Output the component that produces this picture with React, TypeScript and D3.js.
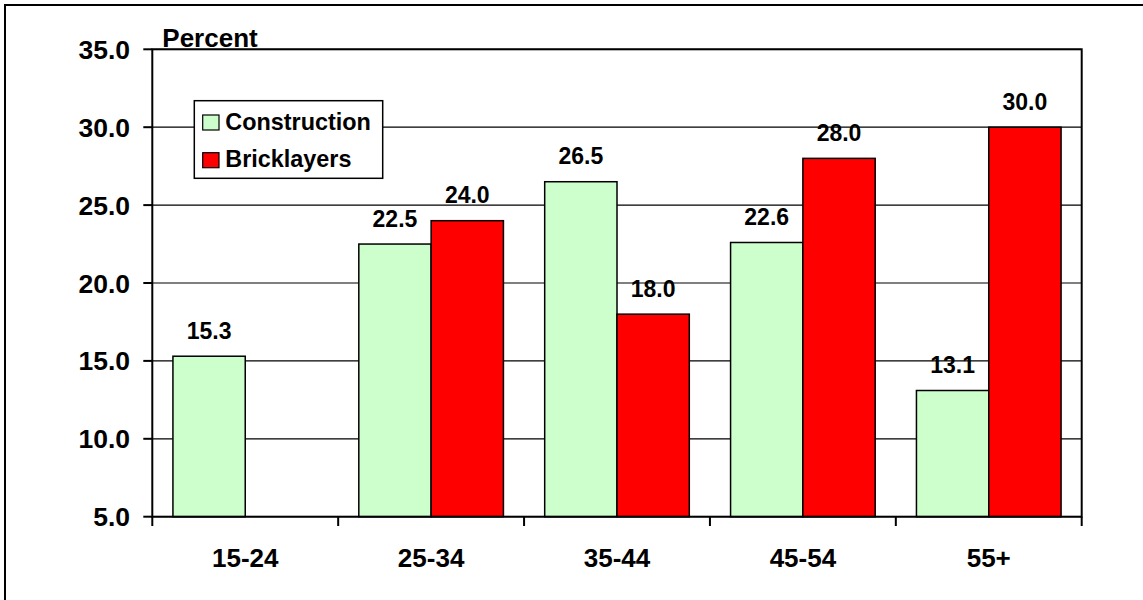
import React from "react";
import * as d3 from "d3";

// Age groups and the share of workers in each (percent)
const categories = ["15-24", "25-34", "35-44", "45-54", "55+"];
const construction = [15.3, 22.5, 26.5, 22.6, 13.1];
const bricklayers: (number | null)[] = [null, 24.0, 18.0, 28.0, 30.0];
const seriesNames = ["Construction", "Bricklayers"];
const seriesColors = ["#CCFFCC", "#FF0000"];
const yTicks = [5, 10, 15, 20, 25, 30, 35];

const W = 1143;
const H = 600;
const plot = { left: 152.3, right: 1081.7, top: 49.3, bottom: 516.7 };
const FONT = "'Liberation Sans', Arial, Helvetica, sans-serif";

export default function App() {
  const x0 = d3
    .scaleBand<string>()
    .domain(categories)
    .range([plot.left, plot.right])
    .padding(0);
  const band = x0.bandwidth();
  const barW = band * 0.389;
  const groupOffset = (band - 2 * barW) / 2;
  const x1 = d3
    .scaleBand<string>()
    .domain(seriesNames)
    .range([groupOffset, groupOffset + 2 * barW])
    .padding(0);

  const y = d3.scaleLinear().domain([5, 35]).range([plot.bottom, plot.top]);
  const fmt = d3.format(".1f");

  const series = [construction, bricklayers];

  const xTickPositions = [...categories.map((c) => x0(c) as number), plot.right];

  return (
    <svg
      width={W}
      height={H}
      style={{ position: "absolute", left: 0, top: 0, background: "#fff" }}
      fontFamily={FONT}
      fontWeight="bold"
    >
      {/* outer frame */}
      <rect x={5} y={5} width={W + 20} height={H + 20} fill="#fff" stroke="#000" strokeWidth={2} />

      {/* horizontal gridlines */}
      {yTicks.map((t) => (
        <line
          key={"g" + t}
          x1={plot.left}
          x2={plot.right}
          y1={y(t)}
          y2={y(t)}
          stroke="#000"
          strokeWidth={1.2}
        />
      ))}

      {/* bars */}
      {series.map((vals, si) =>
        vals.map((v, i) =>
          v == null ? null : (
            <rect
              key={`b${si}-${i}`}
              x={(x0(categories[i]) as number) + (x1(seriesNames[si]) as number)}
              y={y(v)}
              width={x1.bandwidth()}
              height={y(5) - y(v)}
              fill={seriesColors[si]}
              stroke="#000"
              strokeWidth={1.5}
            />
          )
        )
      )}

      {/* value labels */}
      {series.map((vals, si) =>
        vals.map((v, i) =>
          v == null ? null : (
            <text
              key={`l${si}-${i}`}
              x={(x0(categories[i]) as number) + (x1(seriesNames[si]) as number) + x1.bandwidth() / 2}
              y={y(v) - 17.5}
              textAnchor="middle"
              fontSize={23}
              fill="#000"
            >
              {fmt(v)}
            </text>
          )
        )
      )}

      {/* plot frame */}
      <rect
        x={plot.left}
        y={plot.top}
        width={plot.right - plot.left}
        height={plot.bottom - plot.top}
        fill="none"
        stroke="#000"
        strokeWidth={2}
      />

      {/* y axis ticks and labels */}
      {yTicks.map((t) => (
        <g key={"y" + t}>
          <line x1={143.3} x2={plot.left} y1={y(t)} y2={y(t)} stroke="#000" strokeWidth={2} />
          <text
            x={130}
            y={y(t)}
            dy="0.36em"
            textAnchor="end"
            fontSize={26.5}
            fill="#000"
          >
            {fmt(t)}
          </text>
        </g>
      ))}

      {/* x axis ticks */}
      {xTickPositions.map((px, i) => (
        <line key={"xt" + i} x1={px} x2={px} y1={plot.bottom} y2={526} stroke="#000" strokeWidth={2} />
      ))}

      {/* x axis labels */}
      {categories.map((c) => (
        <text
          key={"x" + c}
          x={(x0(c) as number) + band / 2}
          y={566.7}
          textAnchor="middle"
          fontSize={26}
          fill="#000"
        >
          {c}
        </text>
      ))}

      {/* axis title */}
      <text x={162.3} y={46.5} fontSize={26} fill="#000">
        Percent
      </text>

      {/* legend */}
      <g>
        <rect x={194.3} y={100.7} width={188.4} height={77.6} fill="#fff" stroke="#000" strokeWidth={1.5} />
        {seriesNames.map((s, i) => (
          <g key={"lg" + s}>
            <rect
              x={202.7}
              y={115 + i * 37.7}
              width={16.3}
              height={15}
              fill={seriesColors[i]}
              stroke="#000"
              strokeWidth={1.2}
            />
            <text x={225.3} y={129.5 + i * 37.7} fontSize={23.4} fill="#000">
              {s}
            </text>
          </g>
        ))}
      </g>
    </svg>
  );
}
